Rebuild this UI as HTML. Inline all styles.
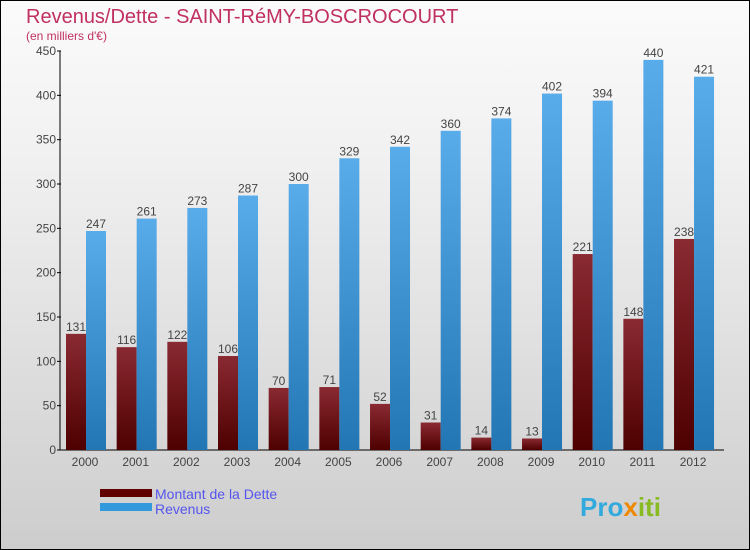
<!DOCTYPE html>
<html><head><meta charset="utf-8"><style>
body{margin:0;width:750px;height:550px;overflow:hidden;font-family:"Liberation Sans",sans-serif}
#wrap{position:absolute;left:0;top:0;width:748px;height:548px;border:1px solid #000;background:linear-gradient(#fbfbfb,#f0f0f0 30%,#cdcdcd)}
</style></head><body>
<div id="wrap">
<svg width="750" height="550" style="position:absolute;left:-1px;top:-1px">
<defs>
<linearGradient id="gd" x1="0" y1="0" x2="0" y2="1"><stop offset="0" stop-color="#8a2a32"/><stop offset="1" stop-color="#4e0000"/></linearGradient>
<linearGradient id="gr" x1="0" y1="0" x2="0" y2="1"><stop offset="0" stop-color="#59acea"/><stop offset="1" stop-color="#2276b4"/></linearGradient>
</defs>
<text x="26" y="23" font-size="20" fill="#c03060">Revenus/Dette - SAINT-RéMY-BOSCROCOURT</text>
<text x="26" y="40" font-size="12" fill="#c03060">(en milliers d'€)</text>
<g id="axes"></g>
<g id="bars"></g>
<rect x="100" y="489" width="52" height="8" fill="#600000"/>
<rect x="100" y="503" width="52" height="8" fill="#3399dd"/>
<text x="155" y="499" font-size="14" fill="#5555ee">Montant de la Dette</text>
<text x="155" y="514" font-size="14" fill="#5555ee">Revenus</text>
<text x="580" y="516" font-size="26" font-weight="bold" fill="#33aadd">Pro<tspan fill="#ee8800">x</tspan><tspan fill="#88bb22">iti</tspan></text>
</svg></div>
<script>
const years=["2000","2001","2002","2003","2004","2005","2006","2007","2008","2009","2010","2011","2012"];
const dette=[131,116,122,106,70,71,52,31,14,13,221,148,238];
const revenus=[247,261,273,287,300,329,342,360,374,402,394,440,421];
const ticks=[0,50,100,150,200,250,300,350,400,450];
const NS="http://www.w3.org/2000/svg";
const y0=450,yTop=51,vmax=450;
const y=v=>y0-(v/vmax)*(y0-yTop);
const cx=i=>85+i*50.67;
const ax=document.getElementById('axes'),bg=document.getElementById('bars');
function mk(tag,at,p){const e=document.createElementNS(NS,tag);for(const k in at)e.setAttribute(k,at[k]);p.appendChild(e);return e;}
let l=mk('line',{x1:60,y1:yTop,x2:60,y2:y0,stroke:'#000'},ax);


l=mk('line',{x1:60,y1:y0,x2:724,y2:y0,stroke:'#000'},ax);


ticks.forEach(t=>{
 const tl=mk('line',{x1:57,y1:y(t),x2:61,y2:y(t),stroke:'#000'},ax);
 
 
 const tx=mk('text',{x:56,y:y(t)+4,'font-size':12,'text-anchor':'end',fill:'#444'},ax);
 tx.textContent=t;
 
 
});
years.forEach((yr,i)=>{
 const c=cx(i);
 const tx=mk('text',{x:c,y:466,'font-size':12,'text-anchor':'middle',fill:'#444'},ax);
 tx.textContent=yr;
 
 
 const d=mk('rect',{x:c-19,y:y(dette[i]),width:20,height:y0-y(dette[i]),fill:'url(#gd)'},bg);
 
 
 const r=mk('rect',{x:c+1,y:y(revenus[i]),width:20,height:y0-y(revenus[i]),fill:'url(#gr)'},bg);
 
 
 const dl=mk('text',{x:c-9,y:y(dette[i])-3,'font-size':12,'text-anchor':'middle',fill:'#444'},bg);
 dl.textContent=dette[i];
 
 
 const rl=mk('text',{x:c+11,y:y(revenus[i])-3,'font-size':12,'text-anchor':'middle',fill:'#444'},bg);
 rl.textContent=revenus[i];
 
 
});
</script>
</body></html>
